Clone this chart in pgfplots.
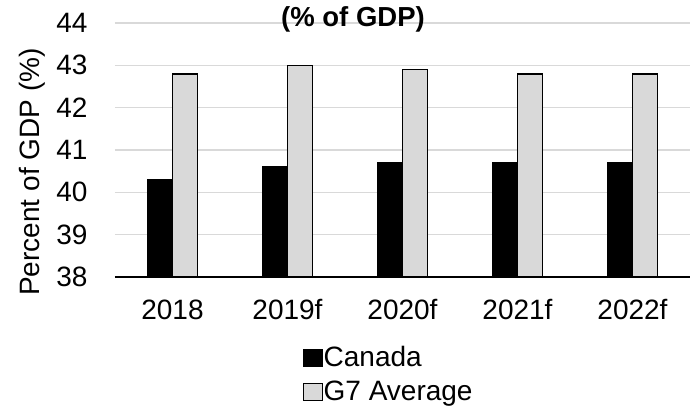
\documentclass[border=0pt]{standalone}
\usepackage{pgfplots}
\pgfplotsset{compat=1.18}
\usepackage{fontspec}
\setmainfont{Liberation Sans}
\definecolor{barg}{HTML}{D9D9D9}
\definecolor{gridg}{HTML}{D9D9D9}
\begin{document}
\begin{tikzpicture}
\path[use as bounding box] (-115pt,-130pt) rectangle (582pt,277pt);
\begin{axis}[
  at={(0pt,0pt)}, anchor=south west,
  scale only axis, width=575pt, height=254pt,
  ymin=38, ymax=44, ytick={38,...,44},
  xmin=-0.5, xmax=4.5,
  xtick={0,1,2,3,4},
  xticklabels={2018,2019f,2020f,2021f,2022f},
  ybar=0pt, bar width=25pt,
  axis line style={draw=none},
  axis x line*=bottom,
  major tick length=0pt,
  ymajorgrids, grid style={gridg, line width=1.5pt},
  tick label style={font=\fontsize{28}{31}\selectfont},
  /pgf/number format/assume math mode=true,
  yticklabel style={xshift=-24pt},
  xticklabel style={yshift=-20pt, text height=19pt, text depth=0pt},
  ylabel={Percent of GDP (\%)},
  ylabel style={font=\fontsize{28}{31}\selectfont, at={(rel axis cs:-0.1443,0.413)}, anchor=center},
  legend style={at={(rel axis cs:0.326,-0.268)}, anchor=north west, draw=none, fill=none,
    font=\fontsize{28}{31}\selectfont, row sep=6pt, inner sep=0pt,
    nodes={inner sep=1pt, text height=20pt, text depth=6pt}},
  legend cell align=left,
  legend image code/.code={\draw[#1, line width=1pt] (0pt,-7pt) rectangle (19pt,10pt);},
  clip=false,
]
\addplot[fill=black, draw=black, line width=1.5pt] coordinates {(0,40.3) (1,40.6) (2,40.7) (3,40.7) (4,40.7)};
\addplot[fill=barg, draw=black, line width=1.5pt] coordinates {(0,42.8) (1,43.0) (2,42.9) (3,42.8) (4,42.8)};
\legend{Canada, G7 Average}
\draw[black, line width=2pt] (rel axis cs:0,0) -- (rel axis cs:1,0);
\end{axis}
\node[font=\bfseries\fontsize{27.5}{30}\selectfont, anchor=base] at (238pt,250pt) {(\% of GDP)};
\end{tikzpicture}
\end{document}
